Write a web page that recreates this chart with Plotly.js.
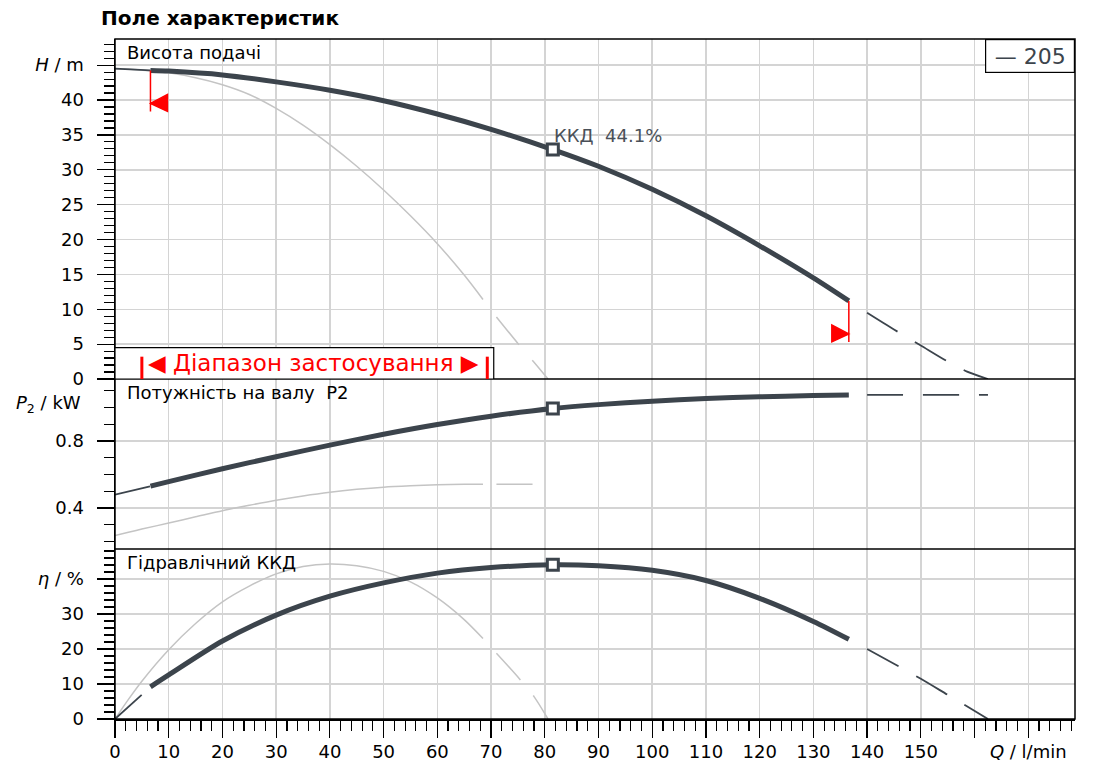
<!DOCTYPE html>
<html>
<head>
<meta charset="utf-8">
<script src="https://cdn.plot.ly/plotly-3.0.1.min.js"></script>
<style>
	html, body { margin: 0; padding: 0; background: #fff; }
	#chart { width: 1097px; height: 771px; }
</style>
</head>
<body>
<div id="chart"></div>
<script>
// pump 205, operating range (thick line) ---------------------------------------
const qOp = [6.6, 10, 20, 30, 40, 50, 60, 70, 81.5, 90, 100, 110, 120, 130, 136.6];
const hOp = [44.25, 44.15, 43.6, 42.6, 41.4, 39.9, 38.0, 35.8, 32.9, 30.5, 27.2, 23.4, 19.1, 14.5, 11.2];
const p2Op = [0.53, 0.557, 0.634, 0.706, 0.775, 0.84, 0.898, 0.948, 0.994, 1.017, 1.037, 1.053, 1.064, 1.071, 1.074];
const etaOp = [9.2, 12.6, 22.3, 29.7, 35.1, 38.9, 41.7, 43.3, 44.1, 43.8, 42.5, 39.6, 34.5, 27.9, 22.8];

// pump 205, outside the range (dashed) ----------------------------------------
const qPre = [0, 6.6];
const hPre = [44.5, 44.25];
const p2Pre = [0.48, 0.53];
const etaPre = [0, 9.2];

const qPost = [140, 145, 150, 155, 158.5, 162.5];
const hPost = [9.5, 7.1, 4.8, 2.5, 1.1, 0];
const p2Post = [1.075, 1.075, 1.075, 1.075, 1.075, 1.075];
const etaPost = [20.0, 15.8, 11.5, 6.9, 3.7, 0];

// best efficiency point
const qBep = 81.5;

// second curve (grey) ---------------------------------------------------------
const qG = [0, 2.5, 5, 10, 15, 20, 25, 30, 35, 40, 45, 50, 55, 60, 65, 68.5];
const hG = [44.5, 44.45, 44.3, 43.9, 43.2, 42.2, 40.8, 38.8, 36.4, 33.6, 30.5, 27.1, 23.4, 19.4, 14.9, 11.4];
const p2G = [0.236, 0.255, 0.274, 0.31, 0.347, 0.384, 0.416, 0.446, 0.472, 0.494, 0.511, 0.524, 0.532, 0.538, 0.541, 0.542];
const etaG = [0, 5.6, 10.8, 19.8, 27.3, 33.5, 38.0, 41.5, 43.6, 44.3, 43.8, 42.2, 39.2, 34.6, 28.4, 23.0];

const qGd = [71, 75, 78, 80.6];
const hGd = [8.9, 5.1, 2.4, 0];
const p2Gd = [0.542, 0.542, 0.542, 0.542];
const etaGd = [18.8, 12.0, 6.4, 0];

// tick labels -----------------------------------------------------------------
const qTicks = [0, 10, 20, 30, 40, 50, 60, 70, 80, 90, 100, 110, 120, 130, 140, 150, 160, 170];
const qLabels = ["0", "10", "20", "30", "40", "50", "60", "70", "80", "90", "100", "110", "120", "130", "140", "150", "\u00a0", "<i>Q</i> / l/min"];
const hTicks = [0, 5, 10, 15, 20, 25, 30, 35, 40, 45];
const hLabels = ["0", "5", "10", "15", "20", "25", "30", "35", "40", "<i>H</i> / m"];
const etaTicks = [0, 10, 20, 30, 40];
const etaLabels = ["0", "10", "20", "30", "<i>η</i> / %"];

// styles ----------------------------------------------------------------------
const dark = "#3c444c";
const grey = "#c4c4c4";
const red = "#ff0000";
const gridCol = "#d4d4d4";
const font = "DejaVu Sans";

const iBep = qOp.indexOf(qBep);

function line(x, y, ax, color, width, dash) {
	return {
		x: x, y: y, yaxis: ax, type: "scatter", mode: "lines",
		line: { color: color, width: width, dash: dash || "solid", shape: "spline", smoothing: 0.8 },
		hoverinfo: "skip", showlegend: false,
	};
}

const dashPat = "36px,20px";
const axes = [["y", hOp, hPre, hPost, hG, hGd], ["y2", p2Op, p2Pre, p2Post, p2G, p2Gd], ["y3", etaOp, etaPre, etaPost, etaG, etaGd]];

var data = [];
axes.forEach(([ax, op, pre, post, g, gd]) => {
	data.push(line(qG, g, ax, grey, 1.5));
	data.push(line(qGd, gd, ax, grey, 1.5, dashPat));
	data.push(line(qPre, pre, ax, dark, 1.8, dashPat));
	data.push(line(qPost, post, ax, dark, 1.8, dashPat));
	data.push(line(qOp, op, ax, dark, 5));
	data.push({
		x: [qBep], y: [op[iBep]], yaxis: ax, type: "scatter", mode: "markers",
		marker: { symbol: "square", size: 11, color: "#fff", line: { color: dark, width: 3 } },
		hoverinfo: "skip", showlegend: false,
	});
});

// axes ------------------------------------------------------------------------
const tickStyle = { ticks: "outside", ticklen: 17, tickwidth: 1.2, tickcolor: "#000",
	showline: true, linecolor: "#000", linewidth: 1.5, zeroline: false,
	showgrid: true, gridcolor: gridCol, gridwidth: 1.5, ticklabelstandoff: 9,
	tickfont: { size: 18 } };

function minor(d) {
	return { tickmode: "linear", tick0: 0, dtick: d, ticks: "outside", ticklen: 10,
		tickwidth: 1.2, tickcolor: "#000", showgrid: false };
}

// flags at the ends of the operating range (pixel offsets)
function flag(q, h, dir) {
	return {
		type: "path", xref: "x", yref: "y", xsizemode: "pixel", ysizemode: "pixel",
		xanchor: q, yanchor: h,
		path: `M0,0 L0,-41 M0,-33 L${17 * dir},-24 L${17 * dir},-41 Z`,
		line: { color: red, width: 1.5 }, fillcolor: red, layer: "above",
	};
}

var layout = {
	width: 1097, height: 771,
	margin: { l: 115, r: 22, t: 39, b: 52 },
	paper_bgcolor: "#fff", plot_bgcolor: "#fff",
	font: { family: font, size: 18, color: "#000" },
	title: {
		text: "Поле характеристик", font: { family: font, size: 20, weight: "bold", color: "#000" },
		x: 101 / 1097, xanchor: "left", y: 1 - 18 / 771, yanchor: "middle",
	},
	xaxis: Object.assign({}, tickStyle, {
		range: [0, 178.7], anchor: "y3", tickmode: "array", tickvals: qTicks, ticktext: qLabels,
		ticklabelstandoff: -1, minor: minor(2),
	}),
	yaxis: Object.assign({}, tickStyle, {
		domain: [0.5, 1], range: [0, 48.75], tickmode: "array", tickvals: hTicks, ticktext: hLabels,
		minor: minor(1),
	}),
	yaxis2: Object.assign({}, tickStyle, {
		domain: [0.25, 0.5], range: [0.155, 1.17], tickmode: "linear", tick0: 0, dtick: 0.4,
		tickformat: ".1f", minor: minor(0.1),
	}),
	yaxis3: Object.assign({}, tickStyle, {
		domain: [0, 0.25], range: [0, 48.6], tickmode: "array", tickvals: etaTicks, ticktext: etaLabels,
		minor: minor(2),
	}),
	shapes: [
		{ type: "rect", xref: "paper", yref: "paper", x0: 0, x1: 1, y0: 0, y1: 1, line: { color: "#000", width: 1.5 }, layer: "above" },
		{ type: "line", xref: "paper", yref: "paper", x0: 0, x1: 1, y0: 0.5, y1: 0.5, line: { color: "#000", width: 1.5 }, layer: "above" },
		{ type: "line", xref: "paper", yref: "paper", x0: 0, x1: 1, y0: 0.25, y1: 0.25, line: { color: "#000", width: 1.5 }, layer: "above" },
		// "application range" box
		{ type: "rect", xref: "x", yref: "y", x0: 0, x1: 70.5, y0: 0, y1: 4.5, fillcolor: "#fff", line: { color: "#000", width: 1.2 }, layer: "above" },
		{ type: "line", xref: "x", yref: "y", x0: 5.0, x1: 5.0, y0: 0, y1: 3.2, line: { color: red, width: 3 }, layer: "above" },
		{ type: "line", xref: "x", yref: "y", x0: 69.3, x1: 69.3, y0: 0, y1: 3.2, line: { color: red, width: 3 }, layer: "above" },
		flag(qOp[0], hOp[0], 1),
		flag(qOp[qOp.length - 1], hOp[hOp.length - 1], -1),
	],
	annotations: [
		{ text: "Висота подачі", xref: "paper", yref: "paper", x: 0, y: 1, xanchor: "left", yanchor: "top", xshift: 10, yshift: -1, showarrow: false, font: { size: 18 } },
		{ text: "Потужність на валу  P2", xref: "paper", yref: "paper", x: 0, y: 0.5, xanchor: "left", yanchor: "top", xshift: 10, yshift: -1, showarrow: false, font: { size: 18 } },
		{ text: "Гідравлічний ККД", xref: "paper", yref: "paper", x: 0, y: 0.25, xanchor: "left", yanchor: "top", xshift: 10, yshift: -1, showarrow: false, font: { size: 18 } },
		{ text: "<i>P</i><sub>2</sub> / kW", xref: "paper", yref: "y2", x: 0, y: 1.02, xanchor: "right", yanchor: "middle", xshift: -32, showarrow: false, font: { size: 18 } },
		{ text: "ККД  " + etaOp[iBep] + "%", xref: "x", yref: "y", x: qBep, y: hOp[iBep], xanchor: "left", yanchor: "middle", xshift: -1, yshift: 14, showarrow: false, font: { size: 18, color: "#4a5058" } },
		{ text: "— 205", xref: "paper", yref: "paper", x: 1, y: 1, xanchor: "right", yanchor: "top", showarrow: false,
			width: 86, height: 30, borderpad: 1, bordercolor: "#000", borderwidth: 1.2, bgcolor: "#fff", font: { size: 22, color: dark } },
		{ text: "◀ Діапазон застосування ▶", xref: "x", yref: "y", x: 36.9, y: 2.3, xanchor: "center", yanchor: "middle", showarrow: false, font: { size: 23, color: red } },
	],
};

Plotly.newPlot("chart", data, layout, { displayModeBar: false, staticPlot: true });
</script>
</body>
</html>
